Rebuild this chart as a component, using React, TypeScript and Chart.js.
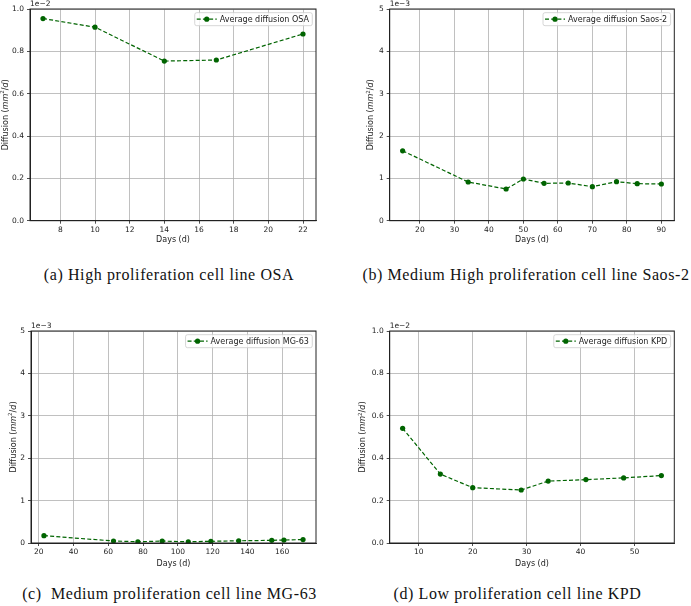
import React, { useEffect, useRef } from 'react';
import { Chart, registerables } from 'chart.js';
Chart.register(...registerables);

// (a) High proliferation, OSA  (values in units of 1e-2 mm^2/d)
const osaDays = [7, 10, 14, 17, 22];
const osaDiffusion = [0.955, 0.914, 0.754, 0.759, 0.882];
const osaXTicks = [8, 10, 12, 14, 16, 18, 20, 22];

// (b) Medium High proliferation, Saos-2  (units of 1e-3)
const saosDays = [15, 34, 45, 50, 56, 63, 70, 77, 83, 90];
const saosDiffusion = [1.65, 0.914, 0.749, 0.985, 0.883, 0.89, 0.803, 0.921, 0.874, 0.867];
const saosXTicks = [20, 30, 40, 50, 60, 70, 80, 90];

// (c) Medium proliferation, MG-63  (units of 1e-3)
const mgDays = [23, 63, 77, 91, 106, 119, 135, 154, 161, 172];
const mgDiffusion = [0.173, 0.047, 0.03, 0.045, 0.03, 0.04, 0.052, 0.062, 0.07, 0.08];
const mgXTicks = [20, 40, 60, 80, 100, 120, 140, 160];

// (d) Low proliferation, KPD  (units of 1e-2)
const kpdDays = [7, 14, 20, 29, 34, 41, 48, 55];
const kpdDiffusion = [0.541, 0.325, 0.261, 0.25, 0.292, 0.299, 0.307, 0.318];
const kpdXTicks = [10, 20, 30, 40, 50];

const yTicksFraction = [0, 0.2, 0.4, 0.6, 0.8, 1.0];
const yTicksInteger = [0, 1, 2, 3, 4, 5];

const GREEN = '#006400';
const INK = '#222222';
const FONT = '"DejaVu Sans", sans-serif';
const TXT = 8;
const TICK = 7.5;

type Rect = { L: number; T: number; R: number; B: number };
type PanelProps = {
  left: number; top: number; w: number; h: number;
  plot: Rect; ylabelX: number; xlabelY: number;
  days: number[]; values: number[]; label: string;
  xTicks: number[]; yTicks: number[]; yDecimals: number; yMax: number;
  offsetText: string;
};

function Panel(p: PanelProps) {
  const ref = useRef<HTMLCanvasElement>(null);
  useEffect(() => {
    if (!ref.current) return;
    const lo = Math.min(...p.days);
    const hi = Math.max(...p.days);
    const m = (hi - lo) * 0.05;
    const lh = TXT * 1.2;
    const xH = p.xlabelY + lh / 2 - p.plot.B;
    const padBottom = p.h - p.plot.B - xH;

    const decor = {
      id: 'decor',
      afterDatasetsDraw(chart: any) {
        const ctx = chart.ctx as CanvasRenderingContext2D;
        const a = chart.chartArea;
        ctx.save();
        // frame
        ctx.strokeStyle = INK;
        ctx.lineWidth = 1;
        ctx.setLineDash([]);
        ctx.strokeRect(a.left, a.top, a.right - a.left, a.bottom - a.top);
        // offset text
        ctx.fillStyle = INK;
        ctx.font = `${TICK}px ${FONT}`;
        ctx.textAlign = 'left';
        ctx.textBaseline = 'bottom';
        ctx.fillText(p.offsetText, a.left, a.top - 1);
        // legend
        ctx.font = `${TXT}px ${FONT}`;
        const text = chart.data.datasets[0].label as string;
        const tw = ctx.measureText(text).width;
        const bh = 13, padL = 2, handle = 20, gap = 3, padR = 3.4;
        const bw = padL + handle + gap + tw + padR;
        const bx = a.right - 3.7 - bw;
        const by = a.top + 3.7;
        ctx.beginPath();
        (ctx as any).roundRect(bx, by, bw, bh, 2);
        ctx.fillStyle = 'rgba(255,255,255,0.8)';
        ctx.fill();
        ctx.strokeStyle = '#cccccc';
        ctx.lineWidth = 0.8;
        ctx.stroke();
        const cy = by + bh / 2;
        ctx.beginPath();
        ctx.setLineDash([4, 2.2]);
        ctx.strokeStyle = GREEN;
        ctx.lineWidth = 1.2;
        ctx.moveTo(bx + padL, cy);
        ctx.lineTo(bx + padL + handle, cy);
        ctx.stroke();
        ctx.setLineDash([]);
        ctx.beginPath();
        ctx.arc(bx + padL + handle / 2, cy, 2.6, 0, Math.PI * 2);
        ctx.fillStyle = GREEN;
        ctx.fill();
        ctx.fillStyle = INK;
        ctx.textBaseline = 'middle';
        ctx.fillText(text, bx + padL + handle + gap, cy + 0.5);
        // y-axis label with math italics
        const segs: [string, string, number][] = [
          ['Diffusion (', `${TXT}px ${FONT}`, 0],
          ['mm', `italic ${TXT}px ${FONT}`, 0],
          ['2', `${TXT * 0.7}px ${FONT}`, -3.3],
          ['/', `${TXT}px ${FONT}`, 0],
          ['d', `italic ${TXT}px ${FONT}`, 0],
          [')', `${TXT}px ${FONT}`, 0],
        ];
        let total = 0;
        const widths = segs.map(([s, f]) => { ctx.font = f; const w = ctx.measureText(s).width; total += w; return w; });
        ctx.translate(p.ylabelX, (a.top + a.bottom) / 2);
        ctx.rotate(-Math.PI / 2);
        ctx.textAlign = 'left';
        ctx.textBaseline = 'alphabetic';
        ctx.fillStyle = INK;
        let x = -total / 2;
        segs.forEach(([s, f, dy], i) => {
          ctx.font = f;
          ctx.fillText(s, x, 3 + dy);
          x += widths[i];
        });
        ctx.restore();
      },
    };

    const gridOpts = { color: '#b0b0b0', lineWidth: 0.8, tickColor: INK, tickLength: 3, tickWidth: 0.8 };
    const chart = new Chart(ref.current, {
      type: 'line',
      data: {
        datasets: [{
          label: p.label,
          data: p.days.map((d, i) => ({ x: d, y: p.values[i] })),
          borderColor: GREEN,
          backgroundColor: GREEN,
          borderWidth: 1.2,
          borderDash: [4, 2.2],
          pointRadius: 2.6,
          pointBorderWidth: 0,
          pointBackgroundColor: GREEN,
          fill: false,
          tension: 0,
        }],
      },
      options: {
        animation: false,
        responsive: false,
        maintainAspectRatio: false,
        events: [],
        layout: { padding: { left: 0, top: p.plot.T, right: p.w - p.plot.R, bottom: padBottom } },
        plugins: { legend: { display: false }, tooltip: { enabled: false } },
        scales: {
          x: {
            type: 'linear',
            min: lo - m,
            max: hi + m,
            afterBuildTicks: (s: any) => { s.ticks = p.xTicks.map((v) => ({ value: v })); },
            afterFit: (s: any) => { s.height = xH; },
            grid: gridOpts,
            border: { display: true, color: INK, width: 1 },
            ticks: { color: INK, font: { size: TICK, family: FONT }, padding: 2, maxRotation: 0, autoSkip: false },
            title: { display: true, text: 'Days (d)', color: INK, font: { size: TXT, family: FONT, lineHeight: 1.2 }, padding: 0 },
          },
          y: {
            type: 'linear',
            min: 0,
            max: p.yMax,
            afterBuildTicks: (s: any) => { s.ticks = p.yTicks.map((v) => ({ value: v })); },
            afterFit: (s: any) => { s.width = p.plot.L; },
            grid: gridOpts,
            border: { display: true, color: INK, width: 1 },
            ticks: {
              color: INK, font: { size: TICK, family: FONT }, padding: 3, autoSkip: false,
              callback: (v: any) => Number(v).toFixed(p.yDecimals),
            },
          },
        },
      },
      plugins: [decor],
    } as any);
    return () => chart.destroy();
  }, []);
  return (
    <canvas
      ref={ref}
      width={p.w}
      height={p.h}
      style={{ position: 'absolute', left: p.left, top: p.top, width: p.w, height: p.h }}
    />
  );
}

const captionStyle: React.CSSProperties = {
  position: 'absolute',
  transform: 'translate(-50%, -50%)',
  whiteSpace: 'nowrap',
  fontFamily: '"Liberation Serif", serif',
  fontSize: 16,
  letterSpacing: 0.6,
  color: '#111',
  lineHeight: 1,
};

export default function App() {
  return (
    <div style={{ position: 'absolute', left: 0, top: 0, width: 691, height: 606, background: '#fff', overflow: 'hidden' }}>
      <Panel left={0} top={0} w={345} h={260} plot={{ L: 30, T: 9, R: 316, B: 220.7 }} ylabelX={4.5} xlabelY={240}
        days={osaDays} values={osaDiffusion} label="Average diffusion OSA" xTicks={osaXTicks}
        yTicks={yTicksFraction} yDecimals={1} yMax={1} offsetText={'1e\u22122'} />
      <Panel left={345} top={0} w={346} h={260} plot={{ L: 44.7, T: 9, R: 329.3, B: 220.7 }} ylabelX={25} xlabelY={240}
        days={saosDays} values={saosDiffusion} label="Average diffusion Saos-2" xTicks={saosXTicks}
        yTicks={yTicksInteger} yDecimals={0} yMax={5} offsetText={'1e\u22123'} />
      <Panel left={0} top={300} w={345} h={280} plot={{ L: 31, T: 31, R: 316, B: 243 }} ylabelX={12.5} xlabelY={264}
        days={mgDays} values={mgDiffusion} label="Average diffusion MG-63" xTicks={mgXTicks}
        yTicks={yTicksInteger} yDecimals={0} yMax={5} offsetText={'1e\u22123'} />
      <Panel left={345} top={300} w={346} h={280} plot={{ L: 44.7, T: 31, R: 329.3, B: 243 }} ylabelX={17} xlabelY={264}
        days={kpdDays} values={kpdDiffusion} label="Average diffusion KPD" xTicks={kpdXTicks}
        yTicks={yTicksFraction} yDecimals={1} yMax={1} offsetText={'1e\u22122'} />
      <div style={{ ...captionStyle, left: 169, top: 275 }}>(a) High proliferation cell line OSA</div>
      <div style={{ ...captionStyle, left: 526, top: 275 }}>(b) Medium High proliferation cell line Saos-2</div>
      <div style={{ ...captionStyle, left: 169.5, top: 594 }}>(c)&nbsp;&nbsp;Medium proliferation cell line MG-63</div>
      <div style={{ ...captionStyle, left: 517.5, top: 594 }}>(d) Low proliferation cell line KPD</div>
    </div>
  );
}
